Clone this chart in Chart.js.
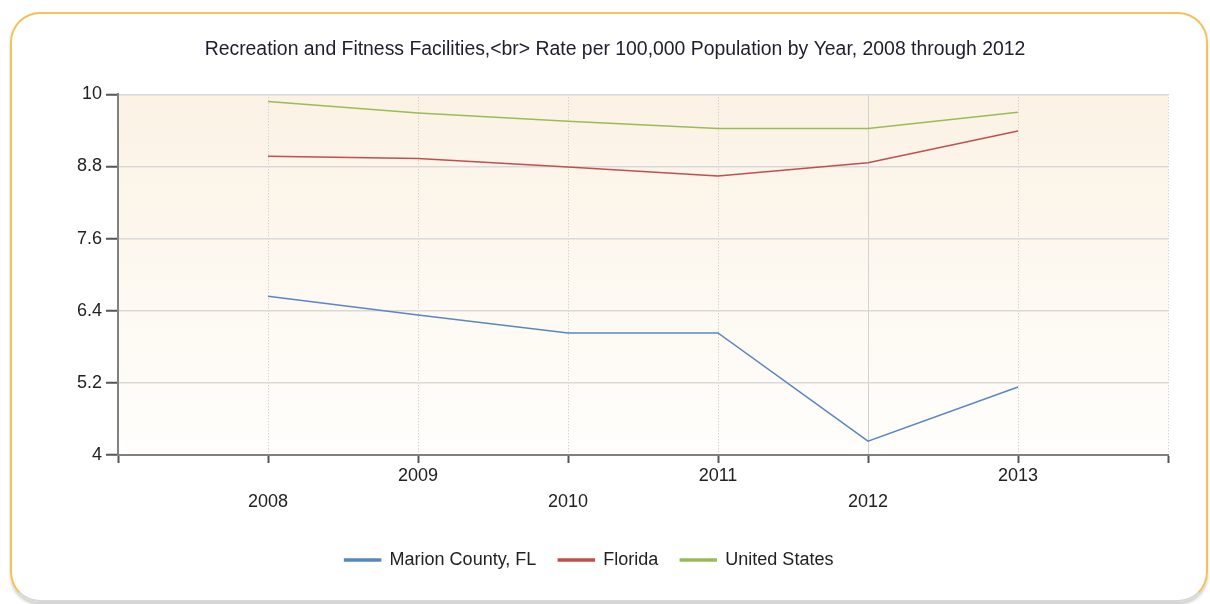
<!DOCTYPE html>
<html>
<head>
    <title>Recreation and Fitness Facilities</title>
    <script src="https://cdn.jsdelivr.net/npm/chart.js"></script>
    <style>
        html, body { margin: 0; padding: 0; background: #fff; }
        .frame {
            position: absolute; left: 10px; top: 12px; width: 1194px; height: 586px;
            border: 2px solid #f3c25a; border-bottom-color: #d8d8d8; border-radius: 30px;
            box-shadow: 0 3px 3px rgba(0,0,0,0.18);
        }
        .grafico { position: absolute; left: 0; top: 0; width: 1210px; height: 604px; }
    </style>
</head>
<body>
    <div class="frame"></div>
    <div class="grafico"><canvas id="grafico"></canvas></div>

    <script>
        var anos = [2008, 2009, 2010, 2011, 2012, 2013];
        var marion = [6.64, 6.33, 6.03, 6.03, 4.23, 5.13];
        var florida = [8.97, 8.93, 8.79, 8.64, 8.86, 9.39];
        var eua = [9.88, 9.69, 9.55, 9.43, 9.43, 9.70];
        var nomes = ['Marion County, FL', 'Florida', 'United States'];
        var cores = ['#5b86c0', '#c0504d', '#9bbb59'];

        function pontos(valores) {
            return anos.map(function (a, i) { return { x: a, y: valores[i] }; });
        }

        var fundo = {
            id: 'fundo',
            afterLayout: function (chart) {
                // legenda fica um pouco a esquerda do centro no original
                chart.legend.left -= 26;
                chart.legend.right -= 26;
            },
            beforeDraw: function (chart) {
                var a = chart.chartArea, c = chart.ctx;
                var g = c.createLinearGradient(0, a.top, 0, a.bottom);
                g.addColorStop(0, '#fbf2e4');
                g.addColorStop(1, '#fffefc');
                c.save();
                c.fillStyle = g;
                c.fillRect(a.left, a.top, a.right - a.left, a.bottom - a.top);
                c.restore();
            }
        };

        Chart.defaults.font.family = "'Liberation Sans', Arial, sans-serif";
        Chart.defaults.color = '#222';

        var series = [marion, florida, eua];
        var ctx = document.getElementById('grafico').getContext('2d');
        var grafico = new Chart(ctx, {
            type: 'line',
            data: {
                datasets: series.map(function (s, i) {
                    return {
                        label: nomes[i],
                        data: pontos(s),
                        borderColor: cores[i],
                        backgroundColor: cores[i],
                        borderWidth: 1.5,
                        pointRadius: 0,
                        tension: 0
                    };
                })
            },
            options: {
                responsive: true,
                maintainAspectRatio: false,
                animation: false,
                layout: { padding: { left: 62, right: 42, top: 0, bottom: 25 } },
                plugins: {
                    title: {
                        display: true,
                        text: 'Recreation and Fitness Facilities,<br> Rate per 100,000 Population by Year, 2008 through 2012',
                        font: { size: 19.4, weight: 'normal' },
                        color: '#1e1e2e',
                        padding: { top: 38, bottom: 33 }
                    },
                    legend: {
                        position: 'bottom',
                        labels: {
                            boxWidth: 36,
                            boxHeight: 2,
                            padding: 22,
                            font: { size: 18 },
                            color: '#222'
                        }
                    },
                    tooltip: { enabled: false }
                },
                scales: {
                    x: {
                        type: 'linear',
                        min: 2007,
                        max: 2014,
                        afterFit: function (s) { s.height = 74; },
                        ticks: {
                            stepSize: 1,
                            autoSkip: false,
                            maxRotation: 0,
                            padding: 0,
                            font: { size: 18, lineHeight: 1.45 },
                            callback: function (v) {
                                if (v < 2008 || v > 2013) return '';
                                return v % 2 === 0 ? ['', String(v)] : String(v);
                            }
                        },
                        grid: {
                            color: function (c) { return c.tick && c.tick.value === 2012 ? '#d2d2d2' : '#c4c4c4'; },
                            lineWidth: 1,
                            tickColor: '#555',
                            tickWidth: 2,
                            tickLength: 8
                        },
                        border: {
                            color: '#808080',
                            width: 2,
                            dash: function (c) { return c.tick && c.tick.value === 2012 ? [] : [1, 2]; }
                        }
                    },
                    y: {
                        min: 4,
                        max: 10,
                        afterFit: function (s) { s.width = 56; },
                        ticks: {
                            stepSize: 1.2,
                            padding: 4,
                            font: { size: 18 },
                            callback: function (v) { return String(Math.round(v * 10) / 10); }
                        },
                        grid: {
                            color: '#d9d9d9',
                            lineWidth: 1.5,
                            tickColor: '#555',
                            tickWidth: 2,
                            tickLength: 12
                        },
                        border: { color: '#808080', width: 2 }
                    }
                }
            },
            plugins: [fundo]
        });
    </script>
</body>
</html>
